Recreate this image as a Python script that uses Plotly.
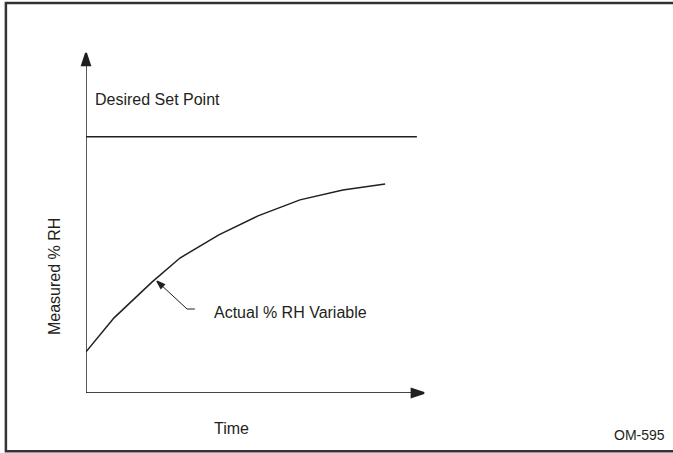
import plotly.graph_objects as go

# readings (time 0..10, RH 0..100 scale)
time = [0, 0.83, 1.95, 2.78, 3.93, 5.09, 6.33, 7.60, 8.85]
rh = [12.1, 22.1, 32.6, 39.7, 46.5, 52.1, 56.8, 59.7, 61.5]
set_point = 75.4
set_x = [0, 9.79]
leader_x = [3.22, 2.99, 2.1]
leader_y = [24.7, 24.7, 32.9]

ink = "#231f20"
font = dict(family="Liberation Sans, Arial, Helvetica, sans-serif", size=16, color=ink)


def arrow_line(x, y, color, width, head, edge):
    # line with an arrow marker on its last point only
    sizes = [0] * (len(x) - 1) + [head]
    return go.Scatter(x=x, y=y, mode="lines+markers",
                      line=dict(color=color, width=width),
                      marker=dict(symbol="arrow", size=sizes, angleref="previous",
                                  color=ink, opacity=1,
                                  line=dict(width=edge, color=ink)))


fig = go.Figure()

# axes
fig.add_trace(arrow_line([0, 10], [0, 0], "#444", 2, 13, 2))
fig.add_trace(arrow_line([0, 0], [0, 100], ink, 1.5, 13, 2))
# desired set point
fig.add_trace(go.Scatter(x=set_x, y=[set_point, set_point], mode="lines",
                         line=dict(color=ink, width=1.5)))
# actual RH curve
fig.add_trace(go.Scatter(x=time, y=rh, mode="lines",
                         line=dict(color=ink, width=1.5)))
# leader line to the curve
fig.add_trace(arrow_line(leader_x, leader_y, ink, 1, 8, 1.5))

annots = []
annots.append(dict(x=0.21, y=86.3, xref="x", yref="y", text="Desired Set Point",
                   showarrow=False, xanchor="left", yanchor="middle", font=font))
annots.append(dict(x=3.73, y=23.8, xref="x", yref="y", text="Actual % RH Variable",
                   showarrow=False, xanchor="left", yanchor="middle", font=font))
annots.append(dict(x=0.429, y=-0.103, xref="paper", yref="paper", text="Time",
                   showarrow=False, xanchor="center", yanchor="middle", font=font))
annots.append(dict(x=-0.0947, y=0.344, xref="paper", yref="paper", text="Measured % RH",
                   showarrow=False, textangle=-90, xanchor="center", yanchor="middle",
                   font=font))
annots.append(dict(x=1.719, y=-0.1235, xref="paper", yref="paper", text="OM-595",
                   showarrow=False, xanchor="right", yanchor="middle",
                   font=dict(font, size=14)))

# frame round the figure
fig.add_shape(type="rect", xref="paper", yref="paper",
              x0=-0.237, x1=2.5, y0=-0.171, y1=1.147,
              line=dict(color="#333", width=2.5))

fig.update_layout(
    width=673, height=453,
    margin=dict(l=86, r=249, t=53, b=60),
    paper_bgcolor="white", plot_bgcolor="white",
    showlegend=False,
    annotations=annots,
    xaxis=dict(range=[0, 10], visible=False, fixedrange=True),
    yaxis=dict(range=[0, 100], visible=False, fixedrange=True),
)

fig.update_traces(cliponaxis=False)

fig.write_html("out.html", config={"displayModeBar": False},
               post_script="document.body.style.margin='0';")
